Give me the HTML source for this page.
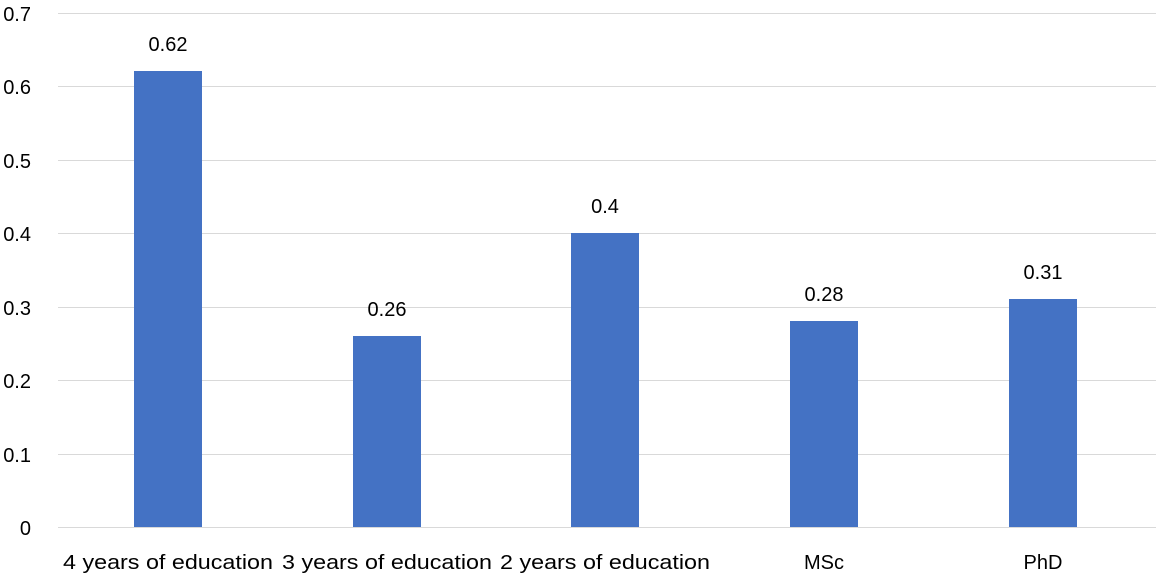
<!DOCTYPE html>
<html><head><style>
body{margin:0;background:#fff;width:1156px;height:578px;overflow:hidden}
text{font-family:"Liberation Sans",sans-serif;font-size:20px;fill:#000}
</style></head><body>
<svg width="1156" height="578" xmlns="http://www.w3.org/2000/svg">
<g stroke="#d9d9d9" stroke-width="1">
<line x1="58" x2="1156" y1="13.5" y2="13.5"/>
<line x1="58" x2="1156" y1="86.5" y2="86.5"/>
<line x1="58" x2="1156" y1="160.5" y2="160.5"/>
<line x1="58" x2="1156" y1="233.5" y2="233.5"/>
<line x1="58" x2="1156" y1="307.5" y2="307.5"/>
<line x1="58" x2="1156" y1="380.5" y2="380.5"/>
<line x1="58" x2="1156" y1="454.5" y2="454.5"/>
<line x1="58" x2="1156" y1="527.5" y2="527.5"/>
</g>
<g text-anchor="end">
<text x="31" y="21">0.7</text>
<text x="31" y="94">0.6</text>
<text x="31" y="168">0.5</text>
<text x="31" y="241">0.4</text>
<text x="31" y="315">0.3</text>
<text x="31" y="388">0.2</text>
<text x="31" y="462">0.1</text>
<text x="31" y="535">0</text>
</g>
<g fill="#4472c4">
<rect x="134" y="71" width="68" height="456"/>
<rect x="353" y="336" width="68" height="191"/>
<rect x="571" y="233" width="68" height="294"/>
<rect x="790" y="321" width="68" height="206"/>
<rect x="1009" y="299" width="68" height="228"/>
</g>
<g text-anchor="middle">
<text x="168" y="51">0.62</text>
<text x="387" y="316">0.26</text>
<text x="605" y="213">0.4</text>
<text x="824" y="301">0.28</text>
<text x="1043" y="279">0.31</text>
<text x="168" y="569" textLength="210" lengthAdjust="spacingAndGlyphs">4 years of education</text>
<text x="387" y="569" textLength="210" lengthAdjust="spacingAndGlyphs">3 years of education</text>
<text x="605" y="569" textLength="210" lengthAdjust="spacingAndGlyphs">2 years of education</text>
<text x="824" y="569">MSc</text>
<text x="1043" y="569">PhD</text>
</g>
</svg>
</body></html>
